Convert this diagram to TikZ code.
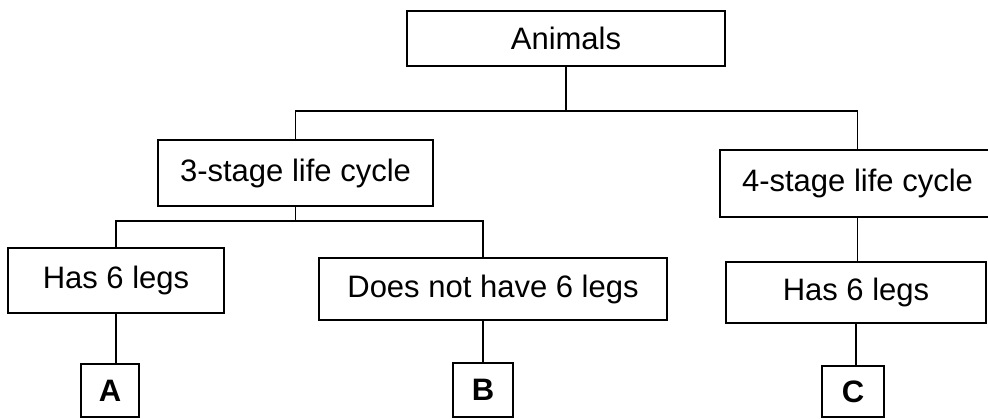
\documentclass[tikz,border=0pt]{standalone}
\usepackage{fontspec}
\setmainfont{Liberation Sans}
\usepackage{tikz}

\begin{document}
\begin{tikzpicture}[x=1pt, y=-1pt, line width=1.6pt,
    box/.style={rectangle, draw, inner sep=0pt, font=\fontsize{31}{37}\selectfont},
    letterbox/.style={box, font=\fontsize{31}{37}\selectfont\bfseries}]
          \useasboundingbox (0,0) rectangle (988,419);
          % Nodes
          \node[box, minimum width=318pt, minimum height=55pt] (animals) at (566,38.5) {Animals};
          \node[box, minimum width=275pt, minimum height=66pt] (stage3) at (295.5,173) {3-stage life cycle};
          \node[box, minimum width=275pt, minimum height=67pt] (stage4) at (857.5,183.5) {4-stage life cycle};
          \node[box, minimum width=216pt, minimum height=65pt] (legs1) at (116,280.5) {Has 6 legs};
          \node[box, minimum width=348pt, minimum height=62pt] (nolegs) at (493,289) {Does not have 6 legs};
          \node[box, minimum width=260pt, minimum height=61pt] (legs2) at (856,292.5) {Has 6 legs};
          \node[letterbox, minimum width=58pt, minimum height=53pt] (A) at (110,390.5) {A};
          \node[letterbox, minimum width=60pt, minimum height=54pt] (B) at (483,390) {B};
          \node[letterbox, minimum width=62pt, minimum height=51pt] (C) at (853,391.5) {C};
          \coordinate (j1) at (566,111);
          \coordinate (j2) at (295.5,221);

          % Edges
          \draw (animals.south) -- (j1);
          \draw (stage3.north) |- (j1) -| (stage4.north);
          \draw (stage3.south) -- (j2);
          \draw (legs1.north) |- (j2) -| (B.north |- nolegs.north);
          \draw (stage4.south) -- (stage4.south |- legs2.north);
          \draw (legs1.south) -- (legs1.south |- A.north);
          \draw (B.north |- nolegs.south) -- (B.north);
          \draw (legs2.south) -- (legs2.south |- C.north);
      \end{tikzpicture}
\end{document}
